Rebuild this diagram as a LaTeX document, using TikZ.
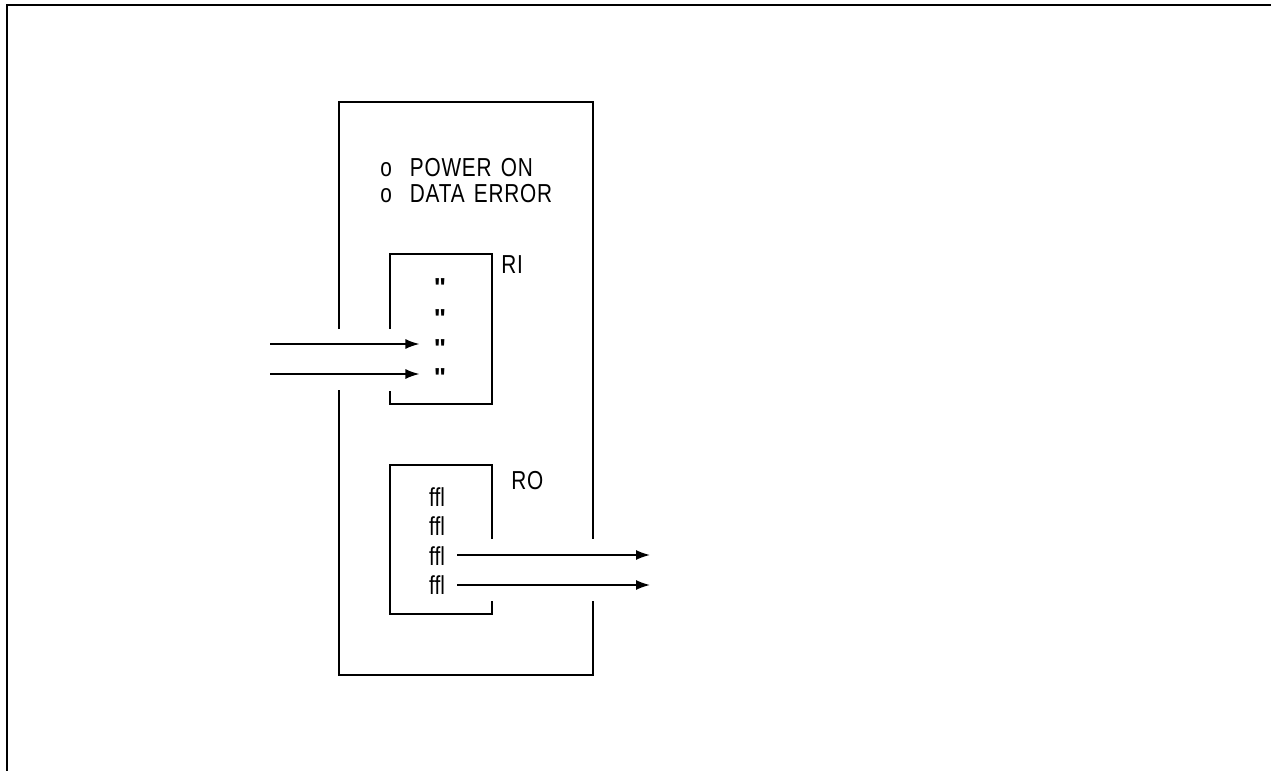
\documentclass[tikz,border=0pt]{standalone}
\usepackage{fontspec}
\setmainfont{Liberation Sans}[FakeStretch=0.8]
\newfontfamily\spacedfont{Liberation Sans}[FakeStretch=0.8, LetterSpace=3, WordSpace=1.4]
\newfontfamily\markfont{Liberation Sans}[Ligatures=TeXOff]
\usetikzlibrary{arrows.meta, positioning}

\begin{document}
\begin{tikzpicture}[x=0.5pt, y=-0.5pt,
    every node/.style={font=\fontsize{13}{15}\selectfont, inner sep=1pt},
    frame/.style={line width=0.9pt},
    signal/.style={line width=0.8pt, -{Latex[length=7pt, width=5pt]}},
    tag/.style={anchor=west, font=\fontsize{13}{15}\spacedfont}
]
\useasboundingbox (0,0) rectangle (1271,771);

% Page frame (top and left edge only)
\draw[frame] (1271,5) -- (7,5) -- (7,771);

% Adapter panel, with gaps where the signals pass
\draw[frame] (339,329) -- (339,102) -- (593,102) -- (593,539);
\draw[frame] (593,601) -- (593,675) -- (339,675) -- (339,390);

% Indicators
\node[tag] (pwr) at (378,168) {o\hspace{9pt}POWER ON};
\node[tag] (err) at (378,194) {o\hspace{9pt}DATA ERROR};

% RI block
\draw[frame] (390,329) -- (390,254) -- (492,254) -- (492,404) -- (390,404) -- (390,391);
\node[tag] (ri) at (499,265) {RI};
\foreach \y/\n in {288/1, 319/2, 349/3, 378/4}
    \node (q\n) at (440,\y) {\markfont\bfseries "};

% RO block
\draw[frame] (492,539) -- (492,465) -- (390,465) -- (390,614) -- (492,614) -- (492,601);
\node[tag] (ro) at (509,481) {RO};
\foreach \y/\n in {497/1, 526/2, 556/3, 585/4}
    \node (f\n) at (437,\y) {ffl};

% Incoming lines
\coordinate (in1) at (270,344);
\coordinate (in2) at (270,374);
\draw[signal, shorten >=6pt] (in1) -- (in1 -| q3.west);
\draw[signal, shorten >=6pt] (in2) -- (in2 -| q4.west);

% Outgoing lines
\coordinate (out1) at (650,555);
\coordinate (out2) at (650,585);
\draw[signal] (f3.east |- out1) ++(10,0) -- (out1);
\draw[signal] (f4.east |- out2) ++(10,0) -- (out2);

\end{tikzpicture}
\end{document}
